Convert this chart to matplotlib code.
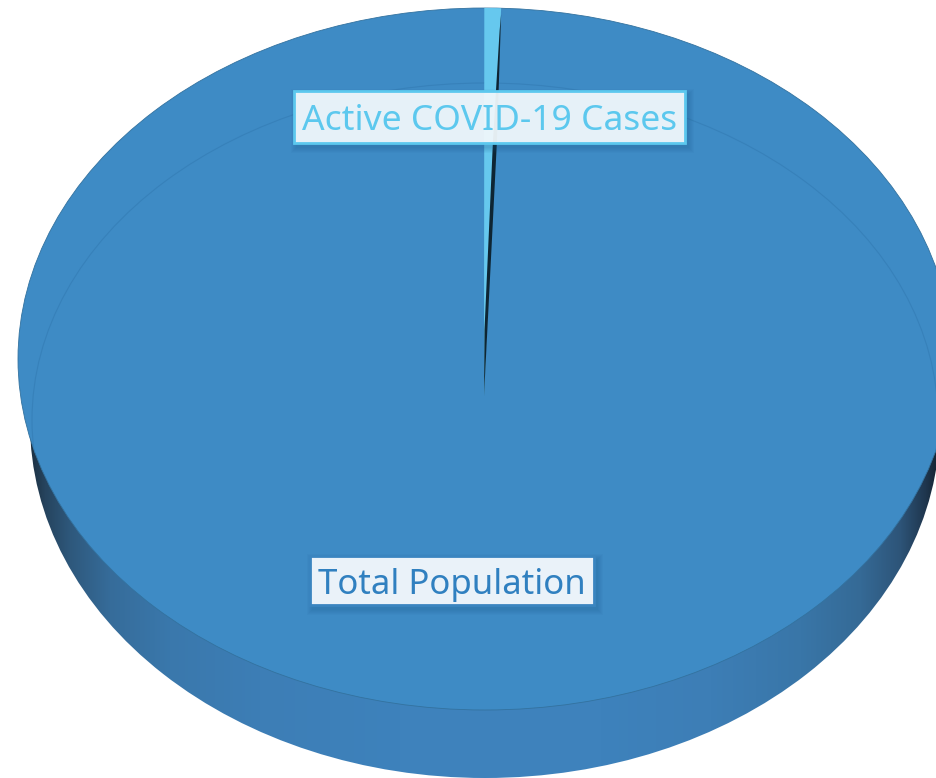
import numpy as np
import matplotlib.pyplot as plt
from matplotlib.colors import to_rgba
from matplotlib.patches import Ellipse, Polygon, Rectangle

# data (share of total)
labels = ['Total Population', 'Active COVID-19 Cases']
values = [99.45, 0.55]

# colours
face_col = '#3e8bc5'
slice_col = '#66c8ee'
wall_col = '#0e2533'
text_cols = ['#3080c0', '#5cc8ee']
edge_cols = ['#3a85c0', '#5cc8ee']
fill_cols = [to_rgba('#eaf2f9', 1.0), to_rgba('#f5fbfe', 0.93)]

# geometry in pixels
W, H = 936, 778
cx, cy, rx, ry = 485, 359, 467, 351      # top face
bx, by, brx, bry = 485, 423, 455, 355    # bottom rim
ax_, ay_ = 484, 396                      # slice apex


def rim(theta):
    return cx + rx * np.sin(theta), cy - ry * np.cos(theta)


fig = plt.figure(figsize=(W / 100, H / 100), dpi=100)
ax = fig.add_axes([0, 0, 1, 1])
ax.set_xlim(0, W)
ax.set_ylim(H, 0)
ax.axis('off')

# side of the disc, dark at both ends
xs = np.array([18, 30, 45, 70, 110, 170, 260, 400, 485, 600, 710, 800, 860, 900, 925, 940])
rs = np.array([0x12, 0x1c, 0x26, 0x2e, 0x36, 0x3a, 0x3d, 0x3e, 0x3e, 0x3e, 0x3d, 0x39, 0x35, 0x2d, 0x1f, 0x12])
gs = np.array([0x20, 0x30, 0x44, 0x58, 0x6c, 0x78, 0x7e, 0x82, 0x82, 0x82, 0x7e, 0x76, 0x6a, 0x54, 0x36, 0x20])
bs = np.array([0x2c, 0x42, 0x5e, 0x7c, 0x9a, 0xac, 0xb6, 0xbc, 0xbc, 0xbc, 0xb6, 0xa8, 0x96, 0x78, 0x4e, 0x2c])
grid = np.arange(W)
grad = np.stack([np.interp(grid, xs, c) / 255 for c in (rs, gs, bs)], axis=-1)[None, :, :]
img = ax.imshow(grad, extent=[0, W, H, 0], aspect='auto', zorder=1)
side = Ellipse((bx, by), 2 * brx, 2 * bry, fc='none', ec='none', transform=ax.transData)
ax.add_patch(side)
img.set_clip_path(side)

# top face
top = Ellipse((cx, cy), 2 * rx, 2 * ry, fc=face_col, ec='#33729f', lw=0.6, zorder=2)
ax.add_patch(top)

# faint back rim seen through the face, stays inside the face
back = Ellipse((485, 420), 906, 674, fc='none', ec='#3781ba', lw=0.8, zorder=3)
ax.add_patch(back)
back.set_clip_path(top)

# active cases slice, clockwise from 12 o'clock
theta = 2 * np.pi * values[1] / sum(values)
arc = np.linspace(-0.0015, theta, 12)
rim_x, rim_y = rim(arc)
ax.add_patch(Polygon(np.column_stack([np.r_[ax_, rim_x], np.r_[ay_, rim_y]]),
                     fc=slice_col, ec='none', zorder=4))

# dark inner wall on the slice's right side
end_x, end_y = rim(theta)
ax.add_patch(Polygon([(ax_, ay_), (ax_ + 0.5, 330), (ax_ + 9, 140), (end_x - 1.5, end_y + 22),
                      (end_x, end_y + 6), (ax_ + 13, 140)],
                     fc=wall_col, ec='none', zorder=5))


def label(text, x0, y0, x1, y1, col, edge, fill, size):
    # soft shadow
    for k in range(6):
        ax.add_patch(Rectangle((x0 - 6 + k + 3, y0 - 6 + k + 4), x1 - x0 + 12 - 2 * k, y1 - y0 + 12 - 2 * k,
                               fc='#1f5c8c', ec='none', alpha=0.05, zorder=6))
    ax.add_patch(Rectangle((x0, y0), x1 - x0, y1 - y0, fc=fill, ec=edge, lw=2, zorder=7))
    ax.text((x0 + x1) / 2, (y0 + y1) / 2 + 4, text, color=col, fontsize=size,
            family='Noto Sans', ha='center', va='center', zorder=8)


label(labels[1], 294, 91, 685, 143, text_cols[1], edge_cols[1], fill_cols[1], 25.5)
label(labels[0], 310, 556, 594, 605, text_cols[0], edge_cols[0], fill_cols[0], 25)

fig.savefig('out.png', dpi=100, facecolor='white')
